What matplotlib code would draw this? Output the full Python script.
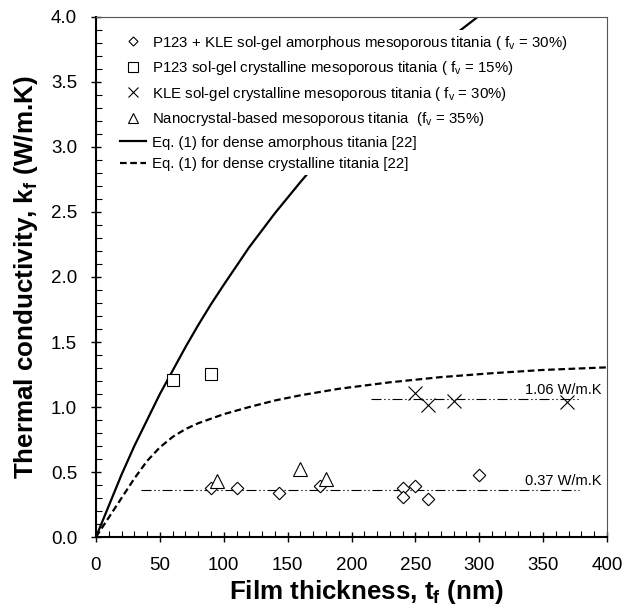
import matplotlib
matplotlib.use('Agg')
import matplotlib.pyplot as plt
from matplotlib.lines import Line2D
from matplotlib.ticker import MultipleLocator

plt.rcParams['font.family'] = 'Liberation Sans'
plt.rcParams['mathtext.fontset'] = 'custom'
plt.rcParams['mathtext.rm'] = 'Liberation Sans'
plt.rcParams['mathtext.it'] = 'Liberation Sans'
plt.rcParams['mathtext.bf'] = 'Liberation Sans:bold'

# measured data (film thickness nm, thermal conductivity W/m.K)
amorph_t = [90, 110, 143, 175, 240, 240, 250, 260, 300]
amorph_k = [0.38, 0.377, 0.336, 0.39, 0.38, 0.31, 0.39, 0.29, 0.477]
p123_t = [60, 90]
p123_k = [1.21, 1.254]
kle_t = [250, 260, 280, 369]
kle_k = [1.11, 1.015, 1.05, 1.04]
nano_t = [95, 160, 180]
nano_k = [0.433, 0.52, 0.446]

# Eq. (1) curves
dense_am_t = [0, 10, 20, 30, 40, 50, 60, 70, 80, 90, 100, 120, 140, 160, 180,
              200, 225, 250, 275, 300, 310]
dense_am_k = [0, 0.24, 0.48, 0.70, 0.90, 1.10, 1.28, 1.46, 1.63, 1.79, 1.94,
              2.23, 2.49, 2.73, 2.96, 3.16, 3.40, 3.62, 3.82, 4.01, 4.08]
dense_cr_t = [0, 10, 20, 30, 40, 50, 60, 70, 80, 90, 100, 120, 140, 160, 190,
              230, 270, 310, 350, 400]
dense_cr_k = [0, 0.15, 0.30, 0.45, 0.585, 0.69, 0.77, 0.83, 0.875, 0.91, 0.945,
              1.00, 1.05, 1.09, 1.14, 1.19, 1.23, 1.26, 1.285, 1.305]

# average values
avg_am = 0.36
avg_am_span = [35, 378]
avg_kle = 1.06
avg_kle_span = [215, 378]

fig = plt.figure(figsize=(6.25, 6.15), dpi=100)
ax = fig.add_axes([0.1536, 0.1268, 0.8176, 0.8456])

ax.plot(dense_am_t, dense_am_k, color='black', lw=1.6)
ax.plot(dense_cr_t, dense_cr_k, color='black', lw=1.6, dashes=(3, 1.6))

ddot = (9, 2.5, 1.2, 2.5, 1.2, 2.5)
ax.plot(avg_am_span, [avg_am, avg_am], color='black', lw=0.8, dashes=ddot)
ax.plot(avg_kle_span, [avg_kle, avg_kle], color='black', lw=0.8, dashes=ddot)
ax.text(396, avg_am + 0.02, '0.37 W/m.K', ha='right', va='bottom', fontsize=10.5)
ax.text(396, avg_kle + 0.02, '1.06 W/m.K', ha='right', va='bottom', fontsize=10.5)

mk = dict(ls='none', mfc='white', mec='black', mew=0.8)
ax.plot(amorph_t, amorph_k, marker=(4, 0, 0), ms=9, **mk)
ax.plot(p123_t, p123_k, marker='s', ms=9, **mk)
ax.plot(kle_t, kle_k, marker='x', ms=9.5, **mk)
ax.plot(nano_t, nano_k, marker='^', ms=9.5, **mk)

ax.set_xlim(0, 400)
ax.set_ylim(0, 4.0)
ax.xaxis.set_major_locator(MultipleLocator(50))
ax.xaxis.set_minor_locator(MultipleLocator(10))
ax.yaxis.set_major_locator(MultipleLocator(0.5))
ax.yaxis.set_minor_locator(MultipleLocator(0.1))
ax.yaxis.set_major_formatter(plt.FormatStrFormatter('%.1f'))
ax.tick_params(which='major', direction='inout', length=7, width=1, labelsize=13.5)
ax.tick_params(axis='y', which='major', pad=10)
ax.tick_params(axis='x', which='major', pad=11)
ax.tick_params(which='minor', direction='in', length=4, width=0.8)
for s in ['left', 'bottom']:
    ax.spines[s].set_linewidth(1.5)
for s in ['top', 'right']:
    ax.spines[s].set_linewidth(0.8)
    ax.spines[s].set_color('#555555')

ax.set_xlabel(r'Film thickness, t$_\mathregular{f}$ (nm)', fontsize=18.7, fontweight='bold')
ax.set_ylabel(r'Thermal conductivity, k$_\mathregular{f}$ (W/m.K)', fontsize=18.7, fontweight='bold')
ax.xaxis.set_label_coords(0.53, -0.079)
ax.yaxis.set_label_coords(-0.11, 0.5)

handles = [
    Line2D([], [], marker=(4, 0, 0), ms=6.5, **mk),
    Line2D([], [], marker='s', ms=6.5, **mk),
    Line2D([], [], marker='x', ms=6.5, **mk),
    Line2D([], [], marker='^', ms=6.5, **mk),
    Line2D([], [], color='black', lw=1.6),
    Line2D([], [], color='black', lw=1.6, dashes=(3, 1.6)),
]
labels = [
    r'P123 + KLE sol-gel amorphous mesoporous titania ( f$_\mathregular{v}$ = 30%)',
    r'P123 sol-gel crystalline mesoporous titania ( f$_\mathregular{v}$ = 15%)',
    r'KLE sol-gel crystalline mesoporous titania ( f$_\mathregular{v}$ = 30%)',
    r'Nanocrystal-based mesoporous titania  (f$_\mathregular{v}$ = 35%)',
    'Eq. (1) for dense amorphous titania [22]',
    'Eq. (1) for dense crystalline titania [22]',
]
leg = ax.legend(handles, labels, loc='upper left', bbox_to_anchor=(0.04, 0.975),
                frameon=True, facecolor='white', edgecolor='none', framealpha=1,
                fancybox=False, fontsize=10.8, handlelength=1.7, handletextpad=0.45,
                labelspacing=0.5, borderaxespad=0, borderpad=0.25)

fig.savefig('out.png', dpi=100)
